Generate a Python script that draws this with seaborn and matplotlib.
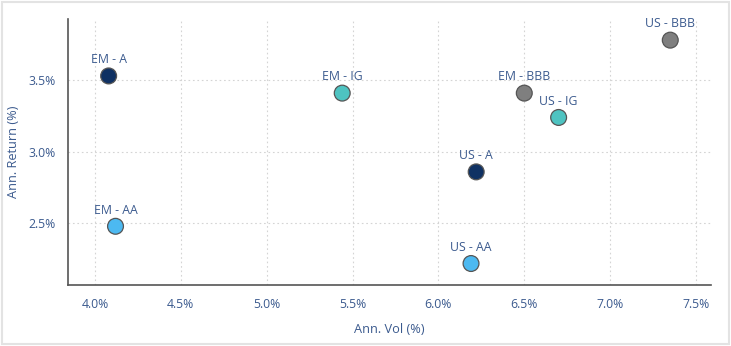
import matplotlib
matplotlib.use("Agg")
import matplotlib.pyplot as plt
import matplotlib.ticker as mticker
import seaborn as sns
import pandas as pd

labels = ["EM - A", "EM - IG", "EM - AA", "US - BBB", "EM - BBB", "US - IG", "US - A", "US - AA"]
vol = [4.08, 5.44, 4.12, 7.35, 6.50, 6.70, 6.22, 6.19]
ret = [3.53, 3.41, 2.48, 3.78, 3.41, 3.24, 2.86, 2.22]
rating = ["A", "IG", "AA", "BBB", "BBB", "IG", "A", "AA"]
palette = {"A": "#0f3163", "IG": "#4ec3c1", "AA": "#4cb9f1", "BBB": "#7f7f7f"}

df = pd.DataFrame({"vol": vol, "ret": ret, "rating": rating, "label": labels})

sns.set_style("white")
plt.rcParams["font.family"] = ["Open Sans", "DejaVu Sans"]
text_color = "#3b5a8e"

fig = plt.figure(figsize=(7.31, 3.46), dpi=100)
ax = fig.add_axes([0.0934, 0.1763, 0.8792, 0.7677])

sns.scatterplot(data=df, x="vol", y="ret", hue="rating", palette=palette,
                s=130, edgecolor="#555555", linewidth=0.9, legend=False, ax=ax, zorder=3)

for lab, x, y in zip(labels, vol, ret):
    ax.annotate(lab, (x, y), xytext=(0, 7), textcoords="offset points",
                ha="center", va="bottom", fontsize=8.8, color=text_color)

ax.set_xlim(3.845, 7.587)
ax.set_ylim(2.07, 3.925)
ax.set_xticks([4.0, 4.5, 5.0, 5.5, 6.0, 6.5, 7.0, 7.5])
ax.set_yticks([2.5, 3.0, 3.5])
ax.xaxis.set_major_formatter(mticker.FuncFormatter(lambda v, p: f"{v:.1f}%"))
ax.yaxis.set_major_formatter(mticker.FuncFormatter(lambda v, p: f"{v:.1f}%"))
ax.grid(True, linestyle=(0, (1.5, 2.5)), color="#d4d4d4", linewidth=0.8)
ax.set_axisbelow(True)
for s in ["top", "right"]:
    ax.spines[s].set_visible(False)
for s in ["left", "bottom"]:
    ax.spines[s].set_color("#555555")
    ax.spines[s].set_linewidth(1.2)
ax.tick_params(axis="both", length=3, color="#aaaaaa", labelsize=8.8, labelcolor=text_color, pad=6)
ax.set_xlabel("Ann. Vol (%)", fontsize=9.2, color=text_color, labelpad=9)
ax.set_ylabel("Ann. Return (%)", fontsize=9.2, color=text_color, labelpad=6)

fig.patches.append(plt.Rectangle((0.003, 0.006), 0.994, 0.988, transform=fig.transFigure,
                                 fill=False, edgecolor="#e3e3e3", linewidth=1.5))
fig.savefig("out.png", dpi=100)
